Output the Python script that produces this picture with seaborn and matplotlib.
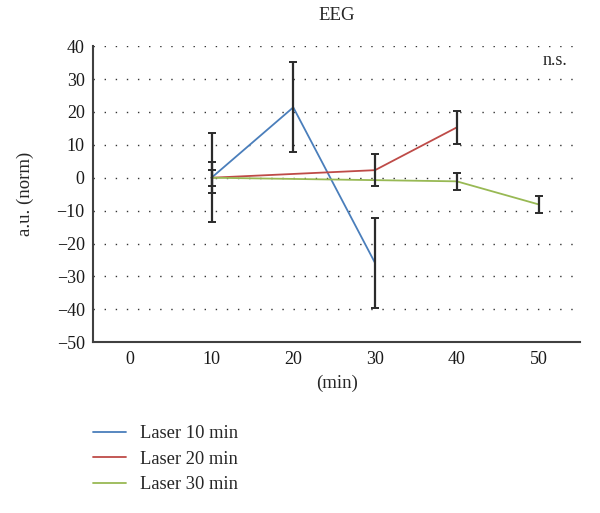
import pandas as pd
import seaborn as sns
from matplotlib import pyplot as plt

# values
series = ["Laser 10 min", "Laser 20 min", "Laser 30 min"]
x_10 = [10, 20, 30]
y_10 = [0, 21.4, -25.9]
err_10 = [13.5, 13.7, 13.6]
x_20 = [10, 30, 40]
y_20 = [0, 2.3, 15.3]
err_20 = [4.7, 4.9, 5.0]
x_30 = [10, 40, 50]
y_30 = [0, -1.1, -8.1]
err_30 = [2.4, 2.6, 2.5]
x_ticks = [0, 10, 20, 30, 40, 50]
colors = ["#4a7ebb", "#be4b48", "#98b954"]

rows = []
for name, xs, ys, es in zip(series, [x_10, x_20, x_30], [y_10, y_20, y_30], [err_10, err_20, err_30]):
    for x, y, e in zip(xs, ys, es):
        rows.append({"min": x, "value": y, "err": e, "series": name})
df = pd.DataFrame(rows)

sns.set_style("white")
plt.rcParams['font.family'] = ['Liberation Serif', 'DejaVu Serif']
plt.rcParams['font.size'] = 13

fig = plt.figure(figsize=(6, 5.13), dpi=100)
ax = fig.add_axes([0.155, 0.333, 0.812, 0.577])

# dotted horizontal grid
for yv in range(-40, 41, 10):
    ax.axhline(yv, color="#333333", linewidth=1.0, linestyle=(0, (1, 7)), zorder=0)

sns.lineplot(data=df, x="min", y="value", hue="series", palette=colors,
             linewidth=1.3, ax=ax, legend=False, sort=True, errorbar=None, zorder=2)
ax.errorbar(df["min"], df["value"], yerr=df["err"], fmt="none", ecolor="#2b2b2b",
            elinewidth=1.6, capsize=3, capthick=1.4, zorder=3)

ax.set_xlim(-4.5, 55.1)
ax.set_ylim(-50, 40)
ax.set_xticks(x_ticks)
ax.set_yticks(range(-50, 41, 10))
ax.set_yticklabels([str(v).replace("-", "\u2212") for v in range(-50, 41, 10)])
ax.tick_params(length=0, labelsize=13, colors="#1a1a1a", pad=6)
for s in ["top", "right"]:
    ax.spines[s].set_visible(False)
for s in ["left", "bottom"]:
    ax.spines[s].set_color("#404040")
    ax.spines[s].set_linewidth(1.5)

ax.set_xlabel("(min)", fontsize=13.5, labelpad=5)
ax.set_ylabel("a.u. (norm)", fontsize=13.5, labelpad=16)
ax.set_title("EEG", fontsize=13.5, pad=19)
ax.text(52, 35.5, "n.s.", fontsize=13, ha="center", va="center")

handles = [plt.Line2D([], [], color=c, linewidth=1.3) for c in colors]
fig.legend(handles, series, loc="upper left", bbox_to_anchor=(0.143, 0.185),
           frameon=False, fontsize=13.3, handlelength=1.75, handletextpad=0.8,
           labelspacing=0.45, borderaxespad=0)

fig.savefig("out.png", dpi=100)
